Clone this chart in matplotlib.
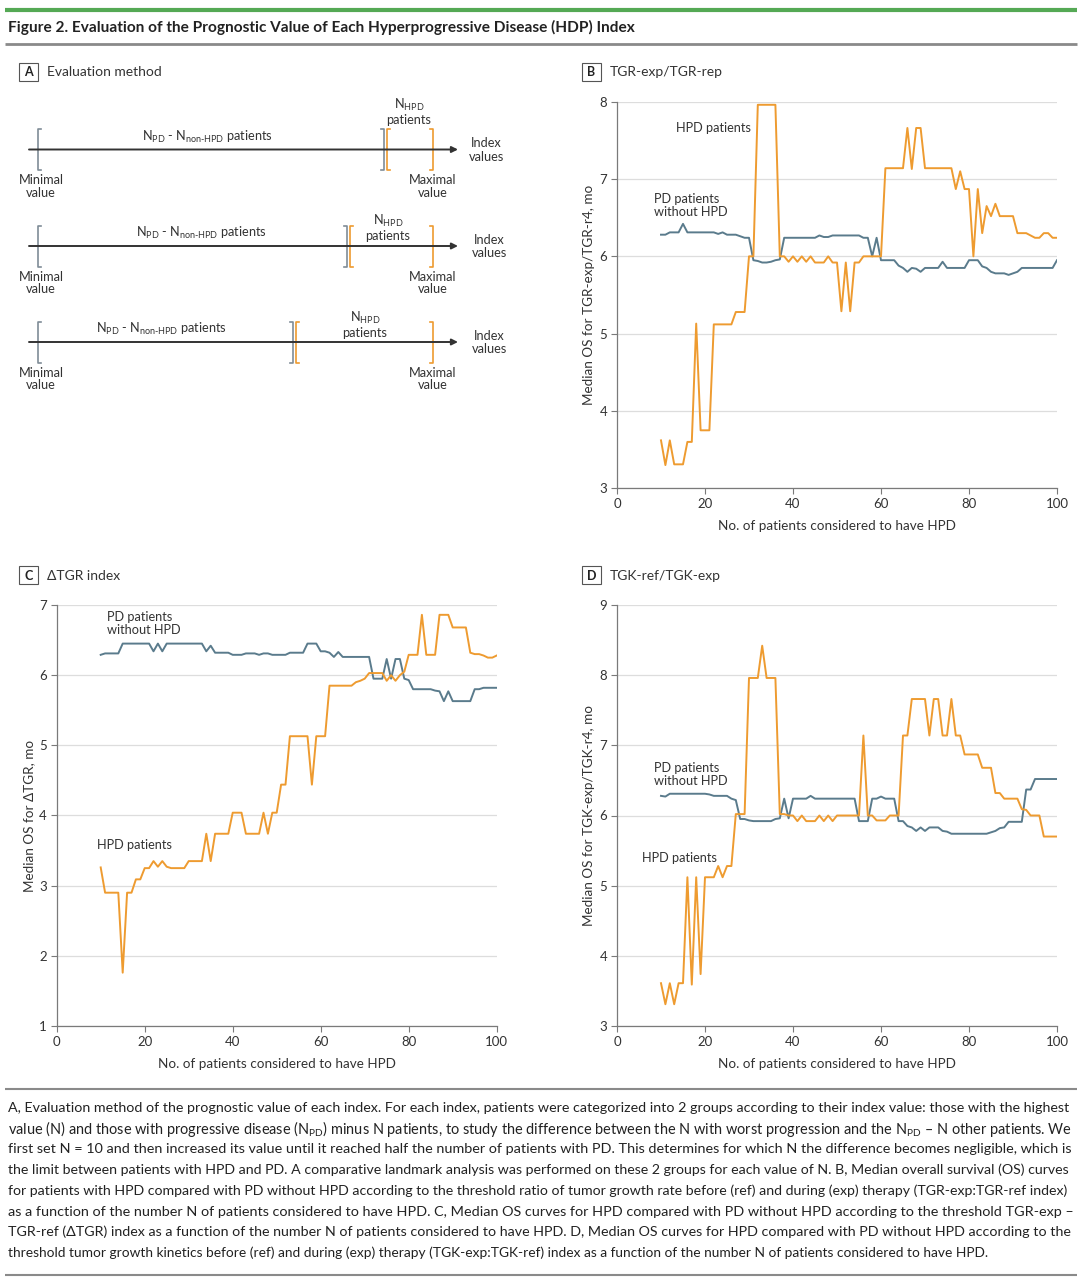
import numpy as np
import matplotlib.pyplot as plt
from matplotlib.patches import Rectangle

plt.rcParams['font.family'] = ['Lato', 'DejaVu Sans']
plt.rcParams['mathtext.fontset'] = 'custom'
plt.rcParams['mathtext.rm'] = 'Lato'
plt.rcParams['mathtext.it'] = 'Lato:italic'
plt.rcParams['mathtext.bf'] = 'Lato:bold'

ORANGE = '#ee9b30'
BLUE = '#5a7b8c'
GREY_BR = '#7f8c97'
TXT = '#333333'
AX = '#7a7a7a'

# ---- data (median OS, months) ----
n_patients = np.arange(10, 101)

tgr_ratio_hpd = [3.62, 3.30, 3.62, 3.31, 3.31, 3.31, 3.60, 3.60, 5.13, 3.75,
                 3.75, 3.75, 5.12, 5.12, 5.12, 5.12, 5.12, 5.28, 5.28, 5.28,
                 6.00, 6.00, 7.96, 7.96, 7.96, 7.96, 7.96, 6.00, 6.00, 5.93,
                 6.00, 5.93, 6.00, 5.93, 6.00, 5.92, 5.92, 5.92, 6.00, 5.92,
                 5.92, 5.29, 5.92, 5.29, 5.92, 5.92, 6.00, 6.00, 6.00, 6.00,
                 6.00, 7.14, 7.14, 7.14, 7.14, 7.14, 7.66, 7.13, 7.66, 7.66,
                 7.14, 7.14, 7.14, 7.14, 7.14, 7.14, 7.14, 6.87, 7.10, 6.87,
                 6.87, 6.00, 6.87, 6.30, 6.65, 6.52, 6.68, 6.52, 6.52, 6.52,
                 6.52, 6.30, 6.30, 6.30, 6.27, 6.24, 6.24, 6.30, 6.30, 6.24,
                 6.24]
tgr_ratio_pd = [6.28, 6.28, 6.31, 6.31, 6.31, 6.42, 6.31, 6.31, 6.31, 6.31,
                6.31, 6.31, 6.31, 6.29, 6.31, 6.28, 6.28, 6.28, 6.26, 6.24,
                6.24, 5.95, 5.94, 5.92, 5.92, 5.93, 5.95, 5.96, 6.24, 6.24,
                6.24, 6.24, 6.24, 6.24, 6.24, 6.24, 6.27, 6.25, 6.25, 6.27,
                6.27, 6.27, 6.27, 6.27, 6.27, 6.27, 6.24, 6.24, 6.00, 6.24,
                5.95, 5.95, 5.95, 5.95, 5.88, 5.85, 5.80, 5.85, 5.84, 5.80,
                5.85, 5.85, 5.85, 5.85, 5.93, 5.85, 5.85, 5.85, 5.85, 5.85,
                5.95, 5.95, 5.95, 5.87, 5.85, 5.80, 5.78, 5.78, 5.78, 5.76,
                5.78, 5.80, 5.85, 5.85, 5.85, 5.85, 5.85, 5.85, 5.85, 5.85,
                5.95]

dtgr_hpd = [3.26, 2.90, 2.90, 2.90, 2.90, 1.76, 2.90, 2.90, 3.09, 3.09,
            3.25, 3.25, 3.35, 3.27, 3.35, 3.27, 3.25, 3.25, 3.25, 3.25,
            3.35, 3.35, 3.35, 3.35, 3.74, 3.35, 3.74, 3.74, 3.74, 3.74,
            4.04, 4.04, 4.04, 3.74, 3.74, 3.74, 3.74, 4.04, 3.74, 4.04,
            4.04, 4.44, 4.44, 5.13, 5.13, 5.13, 5.13, 5.13, 4.44, 5.13,
            5.13, 5.13, 5.85, 5.85, 5.85, 5.85, 5.85, 5.85, 5.90, 5.92,
            5.95, 6.03, 6.03, 6.03, 6.03, 5.92, 6.00, 5.92, 6.00, 6.05,
            6.29, 6.29, 6.29, 6.86, 6.29, 6.29, 6.29, 6.86, 6.86, 6.86,
            6.68, 6.68, 6.68, 6.68, 6.32, 6.30, 6.30, 6.28, 6.25, 6.25,
            6.28]
dtgr_pd = [6.29, 6.31, 6.31, 6.31, 6.31, 6.45, 6.45, 6.45, 6.45, 6.45,
           6.45, 6.45, 6.34, 6.45, 6.34, 6.45, 6.45, 6.45, 6.45, 6.45,
           6.45, 6.45, 6.45, 6.45, 6.34, 6.42, 6.32, 6.32, 6.32, 6.32,
           6.29, 6.29, 6.29, 6.31, 6.31, 6.31, 6.29, 6.31, 6.31, 6.29,
           6.29, 6.29, 6.29, 6.32, 6.32, 6.32, 6.32, 6.45, 6.45, 6.45,
           6.34, 6.34, 6.32, 6.26, 6.33, 6.26, 6.26, 6.26, 6.26, 6.26,
           6.26, 6.26, 5.95, 5.95, 5.95, 6.23, 5.95, 6.23, 6.23, 5.95,
           5.93, 5.80, 5.80, 5.80, 5.80, 5.80, 5.78, 5.77, 5.63, 5.77,
           5.63, 5.63, 5.63, 5.63, 5.63, 5.80, 5.80, 5.82, 5.82, 5.82,
           5.82]

tgk_hpd = [3.61, 3.31, 3.61, 3.31, 3.61, 3.61, 5.12, 3.59, 5.12, 3.74,
           5.12, 5.12, 5.12, 5.28, 5.12, 5.28, 5.28, 6.02, 6.02, 6.02,
           7.96, 7.96, 7.96, 8.42, 7.96, 7.96, 7.96, 6.02, 6.02, 6.00,
           6.00, 5.92, 6.00, 5.92, 5.92, 5.92, 6.00, 5.92, 6.00, 5.92,
           6.00, 6.00, 6.00, 6.00, 6.00, 6.00, 7.14, 6.00, 6.00, 5.93,
           5.93, 5.93, 6.00, 6.00, 6.00, 7.14, 7.14, 7.66, 7.66, 7.66,
           7.66, 7.14, 7.66, 7.66, 7.14, 7.14, 7.66, 7.14, 7.14, 6.87,
           6.87, 6.87, 6.87, 6.68, 6.68, 6.68, 6.32, 6.32, 6.24, 6.24,
           6.24, 6.24, 6.09, 6.08, 6.00, 6.00, 6.00, 5.70, 5.70, 5.70,
           5.70]
tgk_pd = [6.28, 6.27, 6.31, 6.31, 6.31, 6.31, 6.31, 6.31, 6.31, 6.31,
          6.31, 6.30, 6.28, 6.28, 6.28, 6.28, 6.24, 6.22, 5.95, 5.95,
          5.93, 5.92, 5.92, 5.92, 5.92, 5.92, 5.95, 5.96, 6.24, 5.96,
          6.24, 6.24, 6.24, 6.24, 6.28, 6.24, 6.24, 6.24, 6.24, 6.24,
          6.24, 6.24, 6.24, 6.24, 6.24, 5.92, 5.92, 5.92, 6.24, 6.24,
          6.27, 6.24, 6.24, 6.24, 5.92, 5.92, 5.85, 5.83, 5.78, 5.83,
          5.78, 5.83, 5.83, 5.83, 5.78, 5.77, 5.74, 5.74, 5.74, 5.74,
          5.74, 5.74, 5.74, 5.74, 5.74, 5.76, 5.78, 5.82, 5.83, 5.91,
          5.91, 5.91, 5.91, 6.37, 6.37, 6.52, 6.52, 6.52, 6.52, 6.52,
          6.52]

caption_lines = [
    "A, Evaluation method of the prognostic value of each index. For each index, patients were categorized into 2 groups according to their index value: those with the highest",
    "value (N) and those with progressive disease (N$_{\\mathregular{PD}}$) minus N patients, to study the difference between the N with worst progression and the N$_{\\mathregular{PD}}$ \u2013 N other patients. We",
    "first set N = 10 and then increased its value until it reached half the number of patients with PD. This determines for which N the difference becomes negligible, which is",
    "the limit between patients with HPD and PD. A comparative landmark analysis was performed on these 2 groups for each value of N. B, Median overall survival (OS) curves",
    "for patients with HPD compared with PD without HPD according to the threshold ratio of tumor growth rate before (ref) and during (exp) therapy (TGR-exp:TGR-ref index)",
    "as a function of the number N of patients considered to have HPD. C, Median OS curves for HPD compared with PD without HPD according to the threshold TGR-exp \u2013",
    "TGR-ref (\u0394TGR) index as a function of the number N of patients considered to have HPD. D, Median OS curves for HPD compared with PD without HPD according to the",
    "threshold tumor growth kinetics before (ref) and during (exp) therapy (TGK-exp:TGK-ref) index as a function of the number N of patients considered to have HPD.",
]

W, H = 1080, 1283
fig = plt.figure(figsize=(W / 100, H / 100), dpi=100)

# overlay in pixel coordinates for header, schematic and caption
ov = fig.add_axes([0, 0, 1, 1])
ov.set_xlim(0, W)
ov.set_ylim(H, 0)
ov.axis('off')

ov.plot([5, 1077], [10, 10], color='#55a955', lw=3, solid_capstyle='butt')
ov.text(8, 27, "Figure 2. Evaluation of the Prognostic Value of Each Hyperprogressive Disease (HDP) Index",
        fontsize=11.1, color='#222222', va='center', fontweight='bold')
ov.plot([5, 1077], [44, 44], color='#8a8a8a', lw=2, solid_capstyle='butt')


def panel_label(x, y, letter, title):
    ov.add_patch(Rectangle((x, y), 19, 18, fill=False, ec='#555555', lw=0.8))
    ov.text(x + 9.5, y + 9.5, letter, fontsize=9, fontweight='bold', ha='center', va='center', color='#222')
    ov.text(x + 28, y + 9.5, title, fontsize=10, va='center', color=TXT)


panel_label(19, 63, 'A', 'Evaluation method')
panel_label(582, 63, 'B', 'TGR-exp/TGR-rep')
panel_label(19, 566, 'C', '\u0394TGR index')
panel_label(582, 566, 'D', 'TGK-ref/TGK-exp')


# ---- panel A schematic ----
def bracket(x, yc, side, color):
    h = 20.5
    w = 3 * side
    ov.plot([x + w, x, x, x + w], [yc - h, yc - h, yc + h, yc + h], color=color, lw=1.2)


row_y = [149.5, 246, 342]
split_x = [385.5, 348.5, 294.5]
npd_x = [207, 201, 161]
nhpd_x = [409, 388, 365]
nhpd_dy = [-38, -18.5, -17.5]
index_x = [486, 489, 489]
for yc, sx, tx, hx, hdy, ix in zip(row_y, split_x, npd_x, nhpd_x, nhpd_dy, index_x):
    ov.annotate('', xy=(458, yc), xytext=(29, yc),
                arrowprops=dict(arrowstyle='-|>', color='#333333', lw=1.4, mutation_scale=9,
                                shrinkA=0, shrinkB=0))
    bracket(38, yc, 1, GREY_BR)
    bracket(sx - 1.5, yc, -1, GREY_BR)
    bracket(sx + 1.5, yc, 1, ORANGE)
    bracket(433, yc, -1, ORANGE)
    ov.text(tx, yc - 13, "N$_{\\mathregular{PD}}$ - N$_{\\text{non-HPD}}$ patients",
            fontsize=9.2, ha='center', va='center', color=TXT)
    ov.text(hx, yc + hdy, "N$_{\\mathregular{HPD}}$\npatients", fontsize=9.2, ha='center',
            va='center', color=TXT, linespacing=1.05)
    ov.text(ix, yc + 0.5, "Index\nvalues", fontsize=9.2, ha='center', va='center', color=TXT, linespacing=1.15)
    ov.text(41, yc + 37, "Minimal\nvalue", fontsize=9.2, ha='center', va='center', color=TXT, linespacing=1.05)
    ov.text(433, yc + 37, "Maximal\nvalue", fontsize=9.2, ha='center', va='center', color=TXT, linespacing=1.05)


# ---- panels B, C, D ----
def draw_panel(rect, hpd, pd_, ylim, ylabel, hpd_txt, pd_txt):
    ax = fig.add_axes(rect)
    ax.plot(n_patients, pd_, color=BLUE, lw=1.4, zorder=3)
    ax.plot(n_patients, hpd, color=ORANGE, lw=1.4, zorder=4)
    ax.set_xlim(0, 100)
    ax.set_ylim(*ylim)
    ax.set_xticks(range(0, 101, 20))
    ax.set_yticks(range(ylim[0], ylim[1] + 1))
    ax.grid(axis='y', color='#dddddd', lw=0.9)
    ax.set_axisbelow(True)
    for s in ['top', 'right']:
        ax.spines[s].set_visible(False)
    for s in ['left', 'bottom']:
        ax.spines[s].set_color(AX)
        ax.spines[s].set_linewidth(0.9)
    ax.tick_params(colors=AX, labelcolor=TXT, labelsize=9.5, length=4, width=0.8, pad=3)
    ax.set_xlabel("No. of patients considered to have HPD", fontsize=9.7, color=TXT)
    ax.set_ylabel(ylabel, fontsize=9.7, color=TXT)
    h_px = rect[3] * H
    ax.xaxis.set_label_coords(0.5, -32 / h_px)
    ax.yaxis.set_label_coords(-0.05, 0.5)
    ax.text(*hpd_txt, "HPD patients", fontsize=9.2, color=TXT, va='center')
    ax.text(*pd_txt, "PD patients\nwithout HPD", fontsize=9.2, color=TXT, va='center', linespacing=1.1)
    return ax


axB = draw_panel([617 / W, 1 - 488.3 / H, 440 / W, 386.6 / H], tgr_ratio_hpd, tgr_ratio_pd, (3, 8),
                 "Median OS for TGR-exp/TGR-r4, mo", (13.4, 7.66), (8.4, 6.66))
axC = draw_panel([56.7 / W, 1 - 1026 / H, 440 / W, 421 / H], dtgr_hpd, dtgr_pd, (1, 7),
                 "Median OS for \u0394TGR, mo", (9.2, 3.58), (11.4, 6.74))
axD = draw_panel([617 / W, 1 - 1026 / H, 440 / W, 421 / H], tgk_hpd, tgk_pd, (3, 9),
                 "Median OS for TGK-exp/TGK-r4, mo", (5.7, 5.39), (8.4, 6.59))

# ---- caption (lines stretched to the full width, last one left as is) ----
ov.plot([5, 1077], [1089, 1089], color='#8a8a8a', lw=1.5, solid_capstyle='butt')
renderer = fig.canvas.get_renderer()
base_size = 9.9
for i, line in enumerate(caption_lines):
    t = ov.text(8, 1108 + i * 20.7, line, fontsize=base_size, va='center', color='#222222')
    if i < len(caption_lines) - 1:
        w = t.get_window_extent(renderer).width
        t.set_fontsize(base_size * 1064 / w)
ov.plot([5, 1077], [1275, 1275], color='#8a8a8a', lw=1.5, solid_capstyle='butt')

fig.savefig('out.png', dpi=100)
